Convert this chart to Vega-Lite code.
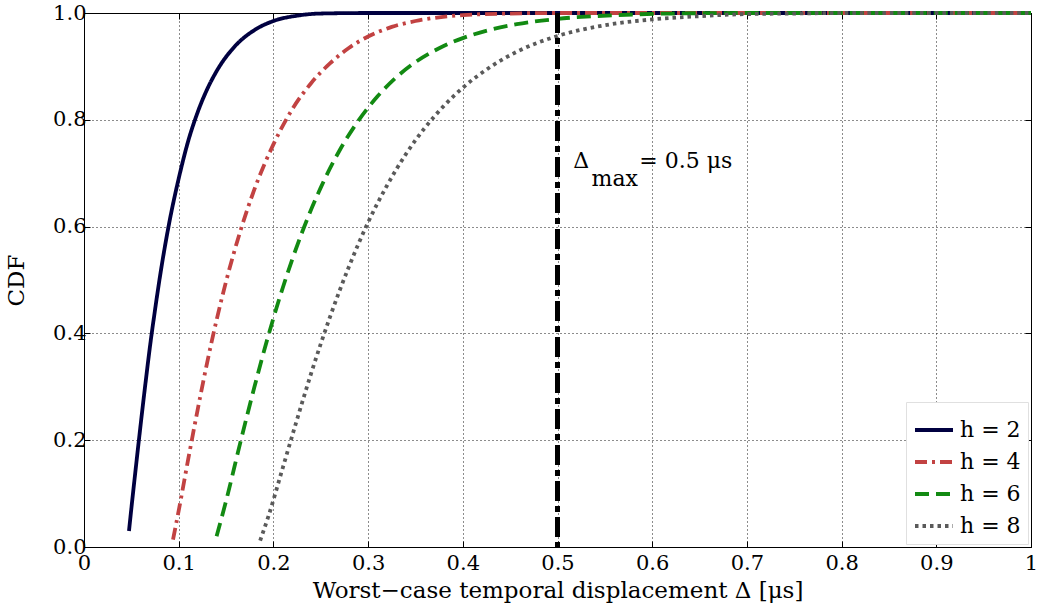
{
  "$schema": "https://vega.github.io/schema/vega-lite/v6.json",
  "width": 947,
  "height": 534,
  "autosize": {"type": "none"},
  "padding": {"left": 84, "top": 13, "right": 9, "bottom": 66},
  "background": "white",
  "config": {
    "font": "DejaVu Serif",
    "view": {"stroke": "black", "strokeWidth": 1},
    "axis": {
      "domainColor": "black",
      "tickColor": "black",
      "labelColor": "black",
      "titleColor": "black",
      "labelFontSize": 21,
      "titleFontSize": 23,
      "titleFontWeight": "normal",
      "gridColor": "black",
      "gridDash": [1, 3],
      "gridWidth": 1,
      "gridOpacity": 0.9,
      "tickSize": -6
    },
    "legend": {
      "orient": "bottom-right",
      "offset": 3,
      "fillColor": "white",
      "strokeColor": "#e0e0e0",
      "padding": 7,
      "symbolType": "stroke",
      "symbolSize": 1444,
      "symbolStrokeWidth": 3.8,
      "labelFontSize": 22,
      "labelColor": "black",
      "rowPadding": -11,
      "labelOffset": 5
    }
  },
  "datasets": {
    "curves": [
      {"x": 0.0475, "y": 0.03, "h": "h = 2"},
      {"x": 0.05, "y": 0.072, "h": "h = 2"},
      {"x": 0.055, "y": 0.153, "h": "h = 2"},
      {"x": 0.06, "y": 0.232, "h": "h = 2"},
      {"x": 0.065, "y": 0.308, "h": "h = 2"},
      {"x": 0.07, "y": 0.38, "h": "h = 2"},
      {"x": 0.075, "y": 0.444, "h": "h = 2"},
      {"x": 0.08, "y": 0.504, "h": "h = 2"},
      {"x": 0.09, "y": 0.607, "h": "h = 2"},
      {"x": 0.1, "y": 0.69, "h": "h = 2"},
      {"x": 0.11, "y": 0.76, "h": "h = 2"},
      {"x": 0.12, "y": 0.814, "h": "h = 2"},
      {"x": 0.13, "y": 0.857, "h": "h = 2"},
      {"x": 0.14, "y": 0.891, "h": "h = 2"},
      {"x": 0.16, "y": 0.939, "h": "h = 2"},
      {"x": 0.18, "y": 0.968, "h": "h = 2"},
      {"x": 0.2, "y": 0.985, "h": "h = 2"},
      {"x": 0.225, "y": 0.995, "h": "h = 2"},
      {"x": 0.25, "y": 0.999, "h": "h = 2"},
      {"x": 0.3, "y": 1.0, "h": "h = 2"},
      {"x": 1.0, "y": 1.0, "h": "h = 2"},

      {"x": 0.094, "y": 0.014, "h": "h = 4"},
      {"x": 0.1, "y": 0.068, "h": "h = 4"},
      {"x": 0.11, "y": 0.164, "h": "h = 4"},
      {"x": 0.12, "y": 0.257, "h": "h = 4"},
      {"x": 0.13, "y": 0.345, "h": "h = 4"},
      {"x": 0.14, "y": 0.425, "h": "h = 4"},
      {"x": 0.15, "y": 0.497, "h": "h = 4"},
      {"x": 0.165, "y": 0.591, "h": "h = 4"},
      {"x": 0.18, "y": 0.67, "h": "h = 4"},
      {"x": 0.2, "y": 0.754, "h": "h = 4"},
      {"x": 0.22, "y": 0.82, "h": "h = 4"},
      {"x": 0.24, "y": 0.869, "h": "h = 4"},
      {"x": 0.26, "y": 0.906, "h": "h = 4"},
      {"x": 0.28, "y": 0.935, "h": "h = 4"},
      {"x": 0.3, "y": 0.956, "h": "h = 4"},
      {"x": 0.325, "y": 0.974, "h": "h = 4"},
      {"x": 0.35, "y": 0.985, "h": "h = 4"},
      {"x": 0.375, "y": 0.992, "h": "h = 4"},
      {"x": 0.4, "y": 0.996, "h": "h = 4"},
      {"x": 0.45, "y": 0.999, "h": "h = 4"},
      {"x": 0.5, "y": 1.0, "h": "h = 4"},
      {"x": 1.0, "y": 1.0, "h": "h = 4"},

      {"x": 0.14, "y": 0.02, "h": "h = 6"},
      {"x": 0.15, "y": 0.086, "h": "h = 6"},
      {"x": 0.165, "y": 0.195, "h": "h = 6"},
      {"x": 0.18, "y": 0.3, "h": "h = 6"},
      {"x": 0.195, "y": 0.398, "h": "h = 6"},
      {"x": 0.21, "y": 0.486, "h": "h = 6"},
      {"x": 0.23, "y": 0.588, "h": "h = 6"},
      {"x": 0.25, "y": 0.673, "h": "h = 6"},
      {"x": 0.27, "y": 0.743, "h": "h = 6"},
      {"x": 0.29, "y": 0.799, "h": "h = 6"},
      {"x": 0.31, "y": 0.844, "h": "h = 6"},
      {"x": 0.33, "y": 0.88, "h": "h = 6"},
      {"x": 0.35, "y": 0.908, "h": "h = 6"},
      {"x": 0.375, "y": 0.934, "h": "h = 6"},
      {"x": 0.4, "y": 0.953, "h": "h = 6"},
      {"x": 0.43, "y": 0.969, "h": "h = 6"},
      {"x": 0.457, "y": 0.979, "h": "h = 6"},
      {"x": 0.5, "y": 0.989, "h": "h = 6"},
      {"x": 0.5625, "y": 0.996, "h": "h = 6"},
      {"x": 0.62, "y": 0.999, "h": "h = 6"},
      {"x": 0.7, "y": 1.0, "h": "h = 6"},
      {"x": 1.0, "y": 1.0, "h": "h = 6"},

      {"x": 0.186, "y": 0.012, "h": "h = 8"},
      {"x": 0.195, "y": 0.059, "h": "h = 8"},
      {"x": 0.21, "y": 0.149, "h": "h = 8"},
      {"x": 0.225, "y": 0.239, "h": "h = 8"},
      {"x": 0.24, "y": 0.326, "h": "h = 8"},
      {"x": 0.26, "y": 0.432, "h": "h = 8"},
      {"x": 0.28, "y": 0.526, "h": "h = 8"},
      {"x": 0.3, "y": 0.608, "h": "h = 8"},
      {"x": 0.32, "y": 0.677, "h": "h = 8"},
      {"x": 0.34, "y": 0.736, "h": "h = 8"},
      {"x": 0.36, "y": 0.785, "h": "h = 8"},
      {"x": 0.38, "y": 0.826, "h": "h = 8"},
      {"x": 0.4, "y": 0.86, "h": "h = 8"},
      {"x": 0.43, "y": 0.9, "h": "h = 8"},
      {"x": 0.46, "y": 0.93, "h": "h = 8"},
      {"x": 0.5, "y": 0.957, "h": "h = 8"},
      {"x": 0.55, "y": 0.977, "h": "h = 8"},
      {"x": 0.6, "y": 0.988, "h": "h = 8"},
      {"x": 0.65, "y": 0.994, "h": "h = 8"},
      {"x": 0.7, "y": 0.998, "h": "h = 8"},
      {"x": 0.75, "y": 0.999, "h": "h = 8"},
      {"x": 0.8, "y": 1.0, "h": "h = 8"},
      {"x": 1.0, "y": 1.0, "h": "h = 8"}
    ],
    "vline": [{"x": 0.5}],
    "note": [
      {"x": 0.5166, "y": 0.71, "t": "Δ"},
      {"x": 0.536, "y": 0.676, "t": "max"},
      {"x": 0.5864, "y": 0.71, "t": "= 0.5 μs"}
    ]
  },
  "resolve": {"axis": {"x": "independent", "y": "independent"}},
  "layer": [
    {
      "data": {"name": "curves"},
      "mark": {"type": "line", "strokeWidth": 3.8, "interpolate": "monotone"},
      "encoding": {
        "x": {
          "field": "x", "type": "quantitative",
          "scale": {"domain": [0, 1], "nice": false},
          "axis": {
            "title": "Worst−case temporal displacement Δ [μs]",
            "values": [0, 0.1, 0.2, 0.3, 0.4, 0.5, 0.6, 0.7, 0.8, 0.9, 1],
            "labelExpr": "datum.value == 0 ? '0' : (datum.value == 1 ? '1' : format(datum.value, '.1f'))",
            "labelPadding": 11,
            "titlePadding": 6,
            "labelFlush": false,
            "grid": true
          }
        },
        "y": {
          "field": "y", "type": "quantitative",
          "scale": {"domain": [0, 1], "nice": false},
          "axis": {
            "title": "CDF",
            "values": [0, 0.2, 0.4, 0.6, 0.8, 1],
            "format": ".1f",
            "labelPadding": 4,
            "titlePadding": 24,
            "labelFlush": false,
            "grid": true
          }
        },
        "color": {
          "field": "h", "type": "nominal",
          "scale": {"domain": ["h = 2", "h = 4", "h = 6", "h = 8"], "range": ["#000040", "#c24242", "#128a12", "#5a5a5a"]},
          "legend": {"title": null}
        },
        "strokeDash": {
          "field": "h", "type": "nominal",
          "scale": {"domain": ["h = 2", "h = 4", "h = 6", "h = 8"], "range": [[1, 0], [12, 5, 3, 5], [14, 7], [3.5, 4]]},
          "legend": {"title": null}
        }
      }
    },
    {
      "data": {"name": "curves"},
      "mark": {"type": "line", "opacity": 0},
      "encoding": {
        "x": {
          "field": "x", "type": "quantitative",
          "scale": {"domain": [0, 1], "nice": false},
          "axis": {"orient": "top", "title": null, "labels": false, "grid": false, "domain": false,
                   "values": [0, 0.1, 0.2, 0.3, 0.4, 0.5, 0.6, 0.7, 0.8, 0.9, 1]}
        },
        "y": {
          "field": "y", "type": "quantitative",
          "scale": {"domain": [0, 1], "nice": false},
          "axis": {"orient": "right", "title": null, "labels": false, "grid": false, "domain": false,
                   "values": [0, 0.2, 0.4, 0.6, 0.8, 1]}
        }
      }
    },
    {
      "data": {"name": "vline"},
      "mark": {"type": "rule", "color": "black", "strokeWidth": 5, "strokeDash": [20, 5, 6, 5]},
      "encoding": {
        "x": {"field": "x", "type": "quantitative", "axis": null}
      }
    },
    {
      "data": {"name": "note"},
      "mark": {"type": "text", "align": "left", "baseline": "alphabetic", "fontSize": 22, "font": "DejaVu Serif", "color": "black"},
      "encoding": {
        "x": {"field": "x", "type": "quantitative", "axis": null},
        "y": {"field": "y", "type": "quantitative", "axis": null},
        "text": {"field": "t"}
      }
    }
  ]
}
